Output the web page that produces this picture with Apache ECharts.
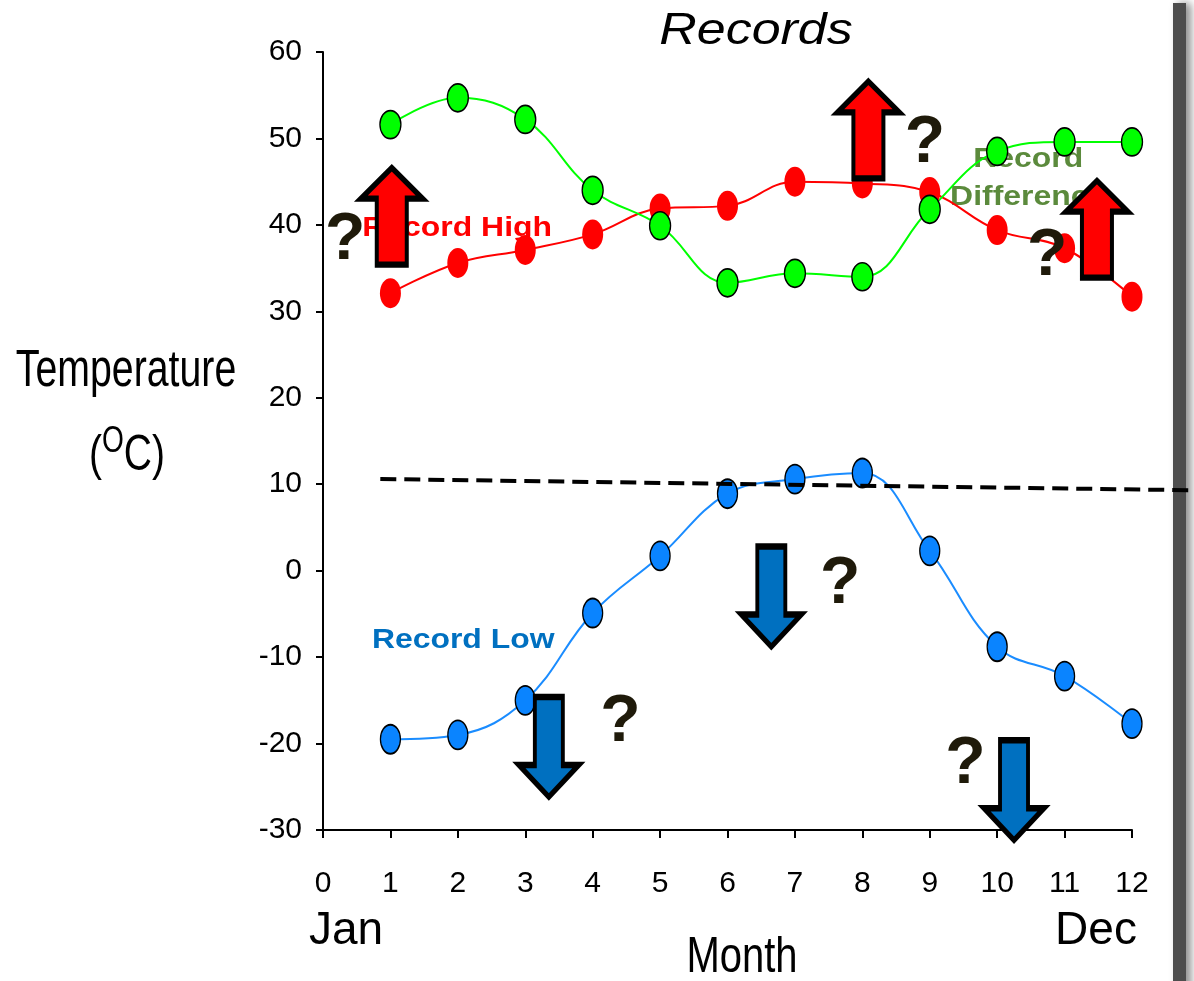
<!DOCTYPE html>
<html>
<head>
<meta charset="utf-8">
<title>Records</title>
<script src="https://cdn.jsdelivr.net/npm/echarts@6/dist/echarts.min.js"></script>
<style>
  html, body { margin: 0; padding: 0; background: #fff; overflow: hidden; }
  #chart { width: 1194px; height: 981px; }
</style>
</head>
<body>
<div id="chart"></div>
<script>
// months 1..12
var months = [1, 2, 3, 4, 5, 6, 7, 8, 9, 10, 11, 12];
var recordHigh = [32.1, 35.6, 37.1, 38.9, 41.9, 42.2, 45.0, 44.8, 43.8, 39.4, 37.3, 31.7];
var recordDiff = [51.6, 54.7, 52.2, 44.0, 39.9, 33.3, 34.4, 34.0, 41.8, 48.5, 49.6, 49.6];
var recordLow = [-19.5, -19.0, -15.0, -4.9, 1.7, 8.9, 10.6, 11.3, 2.3, -8.8, -12.2, -17.7];
// dashed reference line (start / end), runs past the plot to the page edge
var refLine = [[0.85, 10.6], [12.92, 9.3]];
// arrows and question marks: [month, temperature]
var upArrows = [[1.02, 41.0], [8.09, 51.0], [11.48, 39.5]];
var downArrows = [[3.35, -20.4], [6.65, -3.0], [10.25, -25.4]];
var questionMarks = [[0.33, 38.2], [8.93, 49.4], [10.74, 36.3], [4.41, -17.6], [7.67, -1.6], [9.53, -22.4]];
// series name labels: [month, temperature, text, colour]
var seriesLabels = [
  [1.99, 39.6, "Record High", "#ff0000"],
  [10.46, 45.4, "Record\nDifference", "#5b8a3c"],
  [2.08, -8.0, "Record Low", "#0070c0"],
];
var yMin = -30, yMax = 60, yStep = 10;
var xMin = 0, xMax = 12, xStep = 1;

var sans = "'Liberation Sans', Arial, sans-serif";
var ellipse = "path://M50,0 A50,50 0 1,1 50,100 A50,50 0 1,1 50,0 Z";
var upPath = "path://M31,0 L62,31 L46,31 L46,97 L16,97 L16,31 L0,31 Z";
var downPath = "path://M16,0 L44,0 L44,68 L60,68 L30,100 L0,68 L16,68 Z";

function pairs(vals) {
  return months.map(function (m, i) { return [m, vals[i]]; });
}

function txt(x, y, text, font, opts) {
  opts = opts || {};
  return {
    type: "text",
    x: x,
    y: y,
    scaleX: opts.scaleX || 1,
    z: opts.z || 1,
    style: {
      x: 0,
      y: 0,
      text: text,
      font: font,
      fill: opts.fill || "#000",
      align: "center",
      verticalAlign: "middle",
      lineHeight: opts.lineHeight,
      rich: opts.rich,
    },
  };
}

var myChart = echarts.init(document.getElementById("chart"));
var option = {
  animation: false,
  backgroundColor: "#fff",
  grid: [
    { left: 323, right: 62, top: 52, bottom: 151, containLabel: false, outerBoundsMode: "none" },
    // same scale, stretched to the page edge, only for the dashed line
    { left: 323, right: 0, top: 52, bottom: 151, containLabel: false, outerBoundsMode: "none" },
  ],
  xAxis: [
    {
      type: "value",
      gridIndex: 0,
      min: xMin,
      max: xMax,
      interval: xStep,
      axisLine: { onZero: false, lineStyle: { color: "#000", width: 2 } },
      axisTick: { show: true, length: 8, lineStyle: { color: "#000", width: 2 } },
      axisLabel: { margin: 39, fontFamily: sans, fontSize: 30, color: "#000" },
      splitLine: { show: false },
    },
    { type: "value", gridIndex: 1, min: 0, max: 12.92, show: false },
  ],
  yAxis: [
    {
      type: "value",
      gridIndex: 0,
      min: yMin,
      max: yMax,
      interval: yStep,
      axisLine: { show: true, onZero: false, lineStyle: { color: "#000", width: 2 } },
      axisTick: { show: true, length: 7, lineStyle: { color: "#000", width: 2 } },
      axisLabel: { margin: 21, fontFamily: sans, fontSize: 30, color: "#000" },
      splitLine: { show: false },
    },
    { type: "value", gridIndex: 1, min: yMin, max: yMax, show: false },
  ],
  series: [
    {
      name: "Record High",
      type: "line",
      z: 3,
      smooth: 0.4,
      data: pairs(recordHigh),
      symbol: ellipse,
      symbolSize: [21, 30],
      lineStyle: { color: "#ff0000", width: 2 },
      itemStyle: { color: "#ff0000", borderWidth: 0 },
    },
    {
      name: "Record Difference",
      type: "line",
      z: 3,
      smooth: 0.4,
      data: pairs(recordDiff),
      symbol: ellipse,
      symbolSize: [21, 28],
      lineStyle: { color: "#00ff00", width: 2 },
      itemStyle: { color: "#00ff00", borderColor: "#000", borderWidth: 1.5 },
    },
    {
      name: "Record Low",
      type: "line",
      z: 3,
      smooth: 0.4,
      data: pairs(recordLow),
      symbol: ellipse,
      symbolSize: [20, 29],
      lineStyle: { color: "#1a8cff", width: 2 },
      itemStyle: { color: "#0a84ff", borderColor: "#000", borderWidth: 1.5 },
    },
    {
      name: "reference",
      type: "line",
      xAxisIndex: 1,
      yAxisIndex: 1,
      z: 4,
      clip: false,
      showSymbol: false,
      data: refLine,
      lineStyle: { color: "#000", width: 4, type: [16, 8] },
    },
    {
      type: "scatter",
      z: 6,
      data: upArrows,
      symbol: upPath,
      symbolSize: [62, 97],
      itemStyle: { color: "#ff0000", borderColor: "#000", borderWidth: 5, opacity: 1 },
    },
    {
      type: "scatter",
      z: 6,
      data: downArrows,
      symbol: downPath,
      symbolSize: [60, 100],
      itemStyle: { color: "#0070c0", borderColor: "#000", borderWidth: 5, opacity: 1 },
    },
    {
      type: "scatter",
      z: 7,
      symbolSize: 1,
      itemStyle: { color: "rgba(0,0,0,0)", opacity: 1 },
      data: questionMarks,
      label: {
        show: true,
        position: "inside",
        formatter: "?",
        fontFamily: sans,
        fontWeight: "bold",
        fontSize: 66,
        color: "#1f1a0a",
        opacity: 1,
      },
    },
  ],
};
myChart.setOption(option);

// page text + series name labels (placed from data coordinates)
var graphics = [
  {
    type: "rect",
    z: -1,
    shape: { x: 1173, y: 3, width: 13, height: 990 },
    style: { fill: "#4d4d4d", shadowBlur: 8, shadowOffsetX: 5, shadowColor: "rgba(0,0,0,0.45)" },
  },
  txt(756, 32, "Records", "italic 44px " + sans, { scaleX: 1.18 }),
  txt(126, 372, "Temperature", "51px " + sans, { scaleX: 0.77 }),
  txt(127, 456, "({sup|O}C)", "50px " + sans, {
    scaleX: 0.78,
    rich: { sup: { fontFamily: sans, fontSize: 36, fill: "#000", padding: [0, 0, 28, 0] } },
  }),
  txt(346, 931, "Jan", "46px " + sans),
  txt(1096, 931, "Dec", "46px " + sans),
  txt(742, 958, "Month", "50px " + sans, { scaleX: 0.8 }),
];
seriesLabels.forEach(function (l) {
  var p = myChart.convertToPixel({ gridIndex: 0 }, [l[0], l[1]]);
  graphics.push(txt(p[0], p[1], l[2], "bold 28px " + sans, { scaleX: 1.14, fill: l[3], lineHeight: 38, z: 1 }));
});
myChart.setOption({ graphic: graphics });
</script>
</body>
</html>
